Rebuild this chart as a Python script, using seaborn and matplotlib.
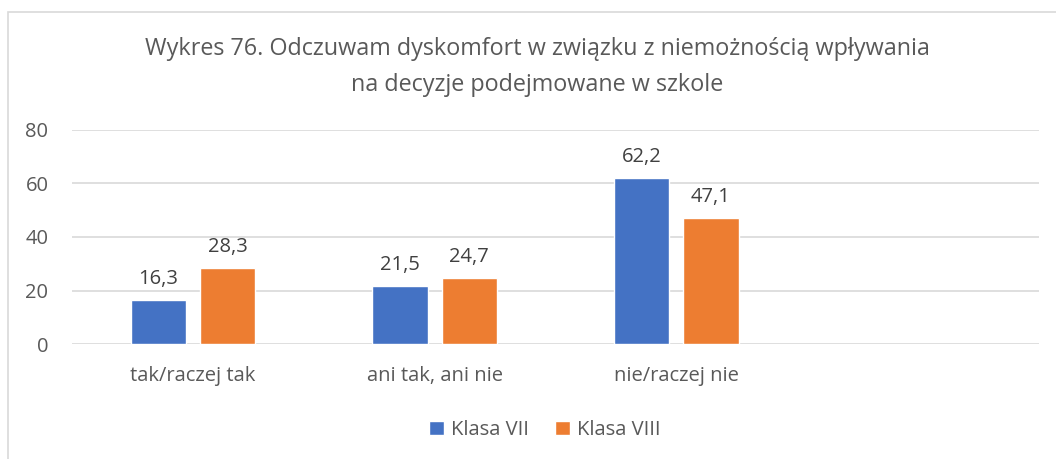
import matplotlib
matplotlib.use("Agg")
import matplotlib.pyplot as plt
import seaborn as sns
import pandas as pd
from matplotlib.patches import Rectangle

categories = ["tak/raczej tak", "ani tak, ani nie", "nie/raczej nie"]
series_names = ["Klasa VII", "Klasa VIII"]
klasa_vii = [16.3, 21.5, 62.2]
klasa_viii = [28.3, 24.7, 47.1]
y_ticks = [0, 20, 40, 60, 80]
title = "Wykres 76. Odczuwam dyskomfort w związku z niemożnością wpływania\nna decyzje podejmowane w szkole"
colors = ["#4472C4", "#ED7D31"]

df = pd.DataFrame({
    "kategoria": categories * 2,
    "klasa": [series_names[0]] * 3 + [series_names[1]] * 3,
    "wartosc": klasa_vii + klasa_viii,
})

sns.set_style("white")
plt.rcParams["font.family"] = ["Open Sans", "DejaVu Sans"]

fig = plt.figure(figsize=(10.56, 4.59), dpi=100)
ax = fig.add_axes([72 / 1056, 1 - 344 / 459, (1039 - 72) / 1056, (344 - 130) / 459])

sns.barplot(data=df, x="kategoria", y="wartosc", hue="klasa", order=categories,
            hue_order=series_names, palette=colors, width=0.572, gap=0.2,
            saturation=1, ax=ax, legend=True)

# leave room for an empty fourth slot on the right
ax.set_xlim(-0.5, 3.5)
ax.set_ylim(0, 80)
ax.set_yticks(y_ticks)
ax.set_xlabel("")
ax.set_ylabel("")
for s in ax.spines.values():
    s.set_visible(False)
ax.grid(axis="y", color="#D9D9D9", linewidth=1.2)
ax.set_axisbelow(True)
ax.tick_params(axis="both", length=0, labelsize=14.5, labelcolor="#595959")
ax.tick_params(axis="y", pad=17)
ax.tick_params(axis="x", pad=16)

for cont in ax.containers:
    ax.bar_label(cont, labels=[f"{b.get_height():.1f}".replace(".", ",") for b in cont],
                 padding=8, fontsize=14.5, color="#404040")

handles, labels = ax.get_legend_handles_labels()
ax.legend_.remove()
fig.legend(handles, labels, loc="center", bbox_to_anchor=(545 / 1056, 1 - 430 / 459),
           ncol=2, frameon=False, fontsize=14.5, labelcolor="#595959",
           handlelength=0.75, handleheight=0.75, handletextpad=0.35, columnspacing=1.3)

fig.text(537 / 1056, 1 - 67 / 459, title, ha="center", va="center", fontsize=16.8,
         color="#595959", linespacing=1.7)

fig.patches.append(Rectangle((8 / 1056, -0.1), 1.2, 1 - 12 / 459 + 0.1,
                             transform=fig.transFigure, fill=False,
                             edgecolor="#D9D9D9", linewidth=1.2))

fig.savefig("out.png", dpi=100)
